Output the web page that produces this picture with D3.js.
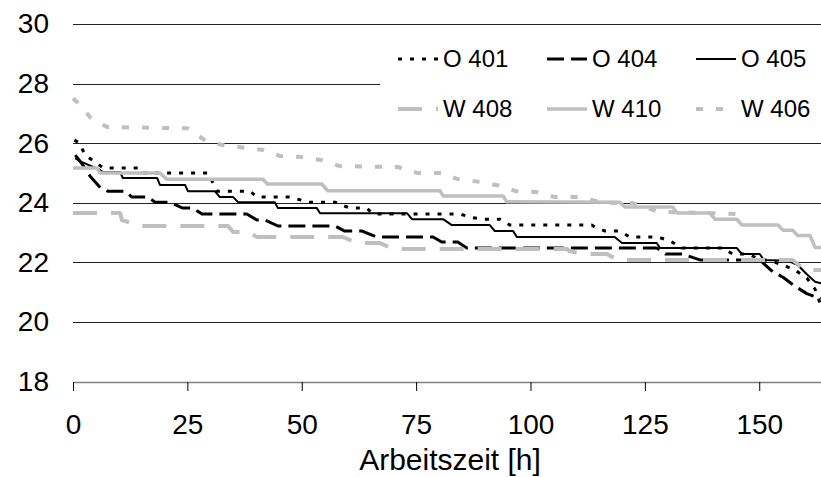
<!DOCTYPE html>
<html>
<head>
<meta charset="utf-8">
<script src="https://cdn.jsdelivr.net/npm/d3@7"></script>
<style>
body { margin: 0; background: #fff; }
text { font-family: Arial, "Liberation Sans", sans-serif; fill: #000; }
</style>
</head>
<body>
<script>
var width = 821;
var height = 477;

// x ticks (Arbeitszeit [h]) and y ticks
var xTicks = [0, 25, 50, 75, 100, 125, 150];
var yTicks = [18, 20, 22, 24, 26, 28, 30];

// series values: [hours, value]
var o401 = [[0.3, 26.1], [1.5, 26.0], [2.6, 25.6], [4.8, 25.37], [6.6, 25.17], [14.2, 25.17], [15, 25.0],
    [29.5, 25.0], [30.6, 24.66], [31.5, 24.39], [38.7, 24.39], [40.2, 24.19], [47.4, 24.19], [49.6, 24.1],
    [51.8, 24.02], [57.3, 24.02], [58.3, 23.95], [60.5, 23.82], [64.2, 23.82], [65.6, 23.62], [84.6, 23.62],
    [87.2, 23.5], [90.0, 23.45], [93.3, 23.45], [95.5, 23.25], [113.4, 23.25], [114.1, 23.18], [116.3, 23.05],
    [119.5, 23.05], [121.7, 22.85], [127.8, 22.85], [130.5, 22.72], [133.1, 22.48], [142.0, 22.48],
    [144.2, 22.28], [147.5, 22.28], [150.1, 22.1], [152.5, 22.05], [155.2, 21.91], [157.8, 21.74],
    [160.4, 21.47], [162.2, 21.1], [163.5, 20.55]];

var o404 = [[0.5, 25.6], [2.0, 25.3], [3.7, 24.9], [6.0, 24.5], [7.6, 24.39], [11.4, 24.39], [12.9, 24.19],
    [16.4, 24.19], [17.9, 24.02], [21.2, 24.02], [23.4, 23.86], [24.0, 23.82], [26.2, 23.82], [28.2, 23.62],
    [38.0, 23.62], [40.2, 23.42], [42.0, 23.42], [44.8, 23.22], [57.3, 23.22], [59.4, 23.05], [63.2, 23.05],
    [66.4, 22.85], [78.7, 22.85], [80.6, 22.68], [84.1, 22.68], [86.1, 22.48], [127.6, 22.48], [129.5, 22.28],
    [133.3, 22.28], [137.0, 22.08], [150.1, 22.08], [153.0, 21.68], [155.2, 21.5], [157.8, 21.2],
    [160.4, 20.95], [162.2, 20.85], [163.5, 20.8]];

var o405 = [[0.5, 25.5], [1.5, 25.4], [5.9, 25.1], [6.6, 25.03], [10.3, 25.03], [10.9, 24.83], [18.4, 24.83],
    [19.0, 24.6], [24.5, 24.6], [25.1, 24.39], [31.0, 24.39], [32.1, 24.19], [35.0, 24.19], [36.1, 24.02],
    [44.1, 24.02], [44.8, 23.82], [53.3, 23.82], [54.0, 23.65], [73.0, 23.65], [74.1, 23.45], [80.9, 23.45],
    [82.8, 23.25], [91.1, 23.25], [92.2, 23.05], [96.2, 23.05], [97.0, 22.85], [118.4, 22.85], [120.0, 22.65],
    [127.6, 22.65], [128.3, 22.48], [145.1, 22.48], [146.2, 22.28], [150.1, 22.28], [151.0, 22.08],
    [156.5, 22.05], [157.3, 21.98], [158.4, 21.91], [160.4, 21.6], [162.2, 21.35], [163.5, 21.3]];

var w408 = [[0, 23.66], [10.3, 23.66], [10.7, 23.42], [13.0, 23.3], [14.0, 23.22], [33.9, 23.22], [35.0, 23.02],
    [38.2, 23.02], [40.2, 22.85], [59.0, 22.85], [62.1, 22.65], [67.1, 22.65], [69.9, 22.45], [108.0, 22.45],
    [108.5, 22.38], [111.2, 22.28], [116.7, 22.28], [119.1, 22.08], [157.3, 22.08], [160.0, 21.74],
    [163.5, 21.74]];

var w410 = [[0, 25.17], [5.2, 25.17], [5.9, 25.0], [19.0, 25.0], [20.5, 24.79], [41.5, 24.79], [42.5, 24.63],
    [54.4, 24.63], [55.7, 24.4], [80.2, 24.4], [80.9, 24.23], [94.0, 24.23], [94.8, 24.03], [119.5, 24.02],
    [120.6, 23.86], [131.1, 23.86], [132.0, 23.66], [139.2, 23.66], [140.3, 23.45], [145.1, 23.45],
    [146.2, 23.25], [154.1, 23.25], [155.2, 23.08], [157.3, 23.08], [158.4, 22.9], [161.1, 22.9],
    [162.2, 22.5], [163.5, 22.5]];

var w406 = [[0, 27.5], [1.5, 27.3], [3.7, 26.88], [6.0, 26.65], [7.6, 26.54], [25.0, 26.5], [27.0, 26.3],
    [29.3, 26.04], [32.8, 25.94], [41.5, 25.77], [45.2, 25.57], [49.6, 25.54], [54.4, 25.43], [58.3, 25.23],
    [71.0, 25.2], [74.0, 25.05], [75.4, 25.0], [80.9, 25.0], [83.9, 24.8], [88.9, 24.7], [93.0, 24.58],
    [96.8, 24.39], [101.3, 24.36], [105.3, 24.19], [111.0, 24.19], [113.0, 24.1], [116.0, 24.0],
    [122.4, 23.99], [125.0, 23.85], [128.0, 23.7], [139.6, 23.65], [144.7, 23.62], [146.0, 23.6]];

var seriesNames = ["O 401", "O 404", "O 405", "W 408", "W 410", "W 406"];
var seriesData = [o401, o404, o405, w408, w410, w406];

// line styles, same order as seriesNames
var styles = [
    { color: "#000", width: 3, dash: "4,8" },
    { color: "#000", width: 3, dash: "17,7" },
    { color: "#000", width: 2, dash: null },
    { color: "#bfbfbf", width: 4, dash: "24,14" },
    { color: "#bfbfbf", width: 3.5, dash: null },
    { color: "#bfbfbf", width: 4, dash: "7,13" }
];

var x = d3.scaleLinear().domain([0, 163.5]).range([73, 821]);
var y = d3.scaleLinear().domain([18, 30]).range([381.5, 24]);

var svg = d3.select("body").append("svg")
    .attr("width", width)
    .attr("height", height);

// gridlines
svg.append("g")
    .selectAll("line")
    .data(yTicks.filter(function (d) { return d > 18; }))
    .enter().append("line")
    .attr("x1", x(0)).attr("x2", width)
    .attr("y1", function (d) { return Math.round(y(d)) + 0.5; })
    .attr("y2", function (d) { return Math.round(y(d)) + 0.5; })
    .style("stroke", "#222")
    .style("stroke-width", 1);

// x axis
var xAxis = svg.append("g")
    .attr("transform", "translate(0," + Math.round(y(18)) + ")")
    .call(d3.axisBottom(x).tickValues(xTicks).tickSize(9).tickPadding(23).tickSizeOuter(0));
xAxis.select(".domain").style("stroke", "#7f7f7f").style("stroke-width", 1.5);
xAxis.selectAll(".tick line").style("stroke", "#000");
xAxis.selectAll(".tick text")
    .style("font-size", "28px")
    .style("font-family", "Arial, 'Liberation Sans', sans-serif")
    .attr("fill", "#000");

// y axis labels (no axis line)
var yAxis = svg.append("g")
    .attr("transform", "translate(" + x(0) + ",0)")
    .call(d3.axisLeft(y).tickValues(yTicks).tickSize(0).tickPadding(24));
yAxis.select(".domain").remove();
yAxis.selectAll(".tick text")
    .style("font-size", "28px")
    .style("font-family", "Arial, 'Liberation Sans', sans-serif")
    .attr("fill", "#000");

svg.append("text")
    .attr("x", 450)
    .attr("y", 470)
    .attr("text-anchor", "middle")
    .style("font-size", "30px")
    .text("Arbeitszeit [h]");

// legend box covers the gridline behind it
svg.append("rect")
    .attr("x", 380).attr("y", 36)
    .attr("width", width - 380).attr("height", 96)
    .style("fill", "#fff");

var line = d3.line()
    .x(function (d) { return x(d[0]); })
    .y(function (d) { return y(d[1]); });

var plot = svg.append("g");
seriesData.forEach(function (data, i) {
    plot.append("path")
        .datum(data)
        .attr("d", line)
        .style("fill", "none")
        .style("stroke", styles[i].color)
        .style("stroke-width", styles[i].width)
        .style("stroke-dasharray", styles[i].dash)
        .style("stroke-linejoin", "round");
});

// legend
var legendX = [398, 547, 696];
var legendY = [59, 109];
seriesNames.forEach(function (name, i) {
    var lx = legendX[i % 3];
    var ly = legendY[Math.floor(i / 3)];
    svg.append("line")
        .attr("x1", lx).attr("x2", lx + 40)
        .attr("y1", ly).attr("y2", ly)
        .style("stroke", styles[i].color)
        .style("stroke-width", styles[i].width)
        .style("stroke-dasharray", styles[i].dash);
    svg.append("text")
        .attr("x", lx + 45)
        .attr("y", ly + 8)
        .style("font-size", "24px")
        .text(name);
});
</script>
</body>
</html>
